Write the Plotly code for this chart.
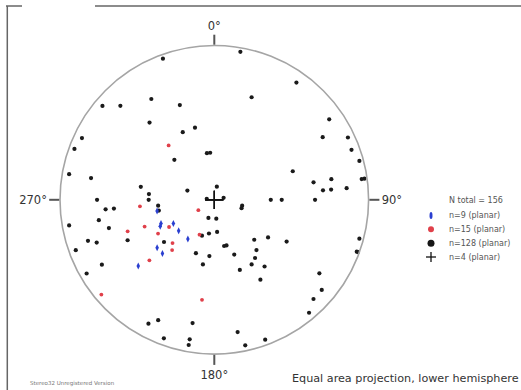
import numpy as np
import plotly.graph_objects as go

# Planar measurements (dip direction / dip, degrees); poles are plotted
# on an equal-area (Schmidt) net, lower hemisphere.
set_a_dipdir = [79, 66, 64, 60, 49, 34, 50, 44, 49]
set_a_dip = [31, 31, 32, 25, 25, 25, 40, 40, 55]

set_b_dipdir = [140, 85, 57, 70, 69, 59, 59, 44, 40, 23, 47, 50, 7]
set_b_dip = [38, 40, 10, 50, 40, 28, 35, 32, 35, 20, 48, 85, 55]

set_c_dipdir = [
    190, 160, 215, 200, 148, 130, 135, 160, 235, 140, 165, 155, 115, 240,
    245, 110, 250, 171, 175, 135, 255, 250, 100, 100, 262, 262, 260, 260,
    100, 191, 109, 265, 265, 265, 95, 90, 90, 98, 258, 270, 270, 270,
    84, 79, 85, 85, 282, 287, 80, 80, 75, 65, 72, 70, 70, 60, 60,
    18, 354, 355, 9, 19, 50, 348, 345, 19, 5, 10, 340, 315, 305, 300,
    320, 325, 330, 323, 340, 330, 285, 290, 290, 305, 310, 315, 320,
    28, 25, 10, 20, 10, 10, 350, 340, 348,
]
set_c_dip = [
    87, 87, 82, 60, 66, 84, 75, 55, 80, 55, 40, 40, 84, 70,
    85, 86, 84, 25, 25, 30, 87, 45, 85, 70, 86, 88, 66, 55,
    40, 7, 15, 60, 65, 75, 35, 35, 65, 4, 5, 30, 36, 55,
    30, 30, 60, 55, 15, 15, 85, 65, 60, 52, 75, 70, 85, 73, 85,
    10, 10, 17, 18, 20, 35, 25, 25, 30, 30, 35, 31, 30, 35, 45,
    35, 38, 40, 45, 40, 50, 87, 88, 89, 72, 80, 80, 85,
    80, 75, 70, 85, 81, 85, 76, 86, 86,
]

set_d_dipdir = [0, 0, 0, 0]
set_d_dip = [0, 0, 0, 0]

legend_labels = ["N total = 156", "n=9 (planar)", "n=15 (planar)",
                 "n=128 (planar)", "n=4 (planar)"]
angle_ticks = [0, 90, 180, 270]


def poles(dipdir, dip):
    """Trend and equal-area radius (1 = primitive circle) of plane poles."""
    trend = (np.asarray(dipdir, float) + 180.0) % 360.0
    r = np.sqrt(2.0) * np.sin(np.radians(np.asarray(dip, float)) / 2.0)
    return trend, r


fig = go.Figure()

styles = [
    (set_c_dipdir, set_c_dip, dict(symbol="circle", size=4.2, color="#1a1a1a")),
    (set_b_dipdir, set_b_dip, dict(symbol="circle", size=3.8, color="#e0404a")),
    (set_a_dipdir, set_a_dip, dict(symbol="diamond-tall", size=5, color="#2a3fd0")),
    (set_d_dipdir, set_d_dip, dict(symbol="cross-thin", size=13,
                                   line=dict(color="#111", width=1.2))),
]
for dd, dp, mk in styles:
    t, r = poles(dd, dp)
    fig.add_trace(go.Scatterpolar(theta=t, r=r, mode="markers", marker=mk,
                                  showlegend=False, hoverinfo="skip"))

W, H = 521, 390
cx, cy, R = 214.3, 199.8, 154.3


def px(x):
    return x / W


def py(y):
    return 1 - y / H


fig.update_layout(
    width=W, height=H, autosize=False,
    margin=dict(l=0, r=0, t=0, b=0, pad=0),
    paper_bgcolor="white",
    font=dict(family="DejaVu Sans", color="#333"),
    polar=dict(
        domain=dict(x=[px(cx - R), px(cx + R)], y=[py(cy + R), py(cy - R)]),
        bgcolor="white",
        angularaxis=dict(
            rotation=90, direction="clockwise",
            tickmode="array", tickvals=angle_ticks,
            ticktext=[f"{a}°" for a in angle_ticks],
            ticks="outside", ticklen=10, tickwidth=2, tickcolor="#555",
            showline=True, linecolor="#a5a5a5", linewidth=1.6,
            showgrid=False,
            tickfont=dict(family="DejaVu Sans", size=11.5, color="#333"),
        ),
        radialaxis=dict(visible=False, range=[0, 1], showgrid=False,
                        showline=False),
    ),
)

# window frame lines
frame = dict(type="line", xref="paper", yref="paper",
             line=dict(color="#666", width=1.5))
fig.add_shape(x0=px(7.3), x1=px(7.3), y0=py(6), y1=0, **frame)
fig.add_shape(x0=px(6), x1=px(22), y0=py(6), y1=py(6), **frame)
fig.add_shape(x0=px(95), x1=1, y0=py(6), y1=py(6), **frame)

# legend
lx = 431
rows = [201, 215.5, 229.3, 243.3, 257]
leg_font = dict(family="DejaVu Sans", size=8, color="#555")
for yy, label in zip(rows, legend_labels):
    fig.add_annotation(x=px(446.5), y=py(yy), xref="paper", yref="paper",
                       text=label, showarrow=False, xanchor="left",
                       yanchor="middle", font=leg_font)


def swatch(yy, w, h, color):
    fig.add_shape(type="circle", xref="paper", yref="paper",
                  xsizemode="pixel", ysizemode="pixel",
                  xanchor=px(lx), yanchor=py(yy),
                  x0=-w / 2, x1=w / 2, y0=-h / 2, y1=h / 2,
                  fillcolor=color, line=dict(width=0))


swatch(rows[1], 3, 7, "#2a3fd0")
swatch(rows[2], 6, 6, "#e0404a")
swatch(rows[3], 7, 7, "#161616")
cross = dict(type="line", xref="paper", yref="paper",
             line=dict(color="#111", width=1.3))
fig.add_shape(x0=px(lx - 5), x1=px(lx + 5), y0=py(rows[4]), y1=py(rows[4]), **cross)
fig.add_shape(x0=px(lx), x1=px(lx), y0=py(rows[4] - 5), y1=py(rows[4] + 5), **cross)

fig.add_annotation(x=px(521), y=py(378), xref="paper", yref="paper",
                   text="Equal area projection, lower hemisphere",
                   showarrow=False, xanchor="right", yanchor="middle",
                   font=dict(family="DejaVu Sans", size=11.2, color="#333"))
fig.add_annotation(x=px(28), y=py(383), xref="paper", yref="paper",
                   text="Stereo32 Unregistered Version",
                   showarrow=False, xanchor="left", yanchor="middle",
                   font=dict(family="DejaVu Sans", size=5.5, color="#777"))

fig.write_html("out.html")
